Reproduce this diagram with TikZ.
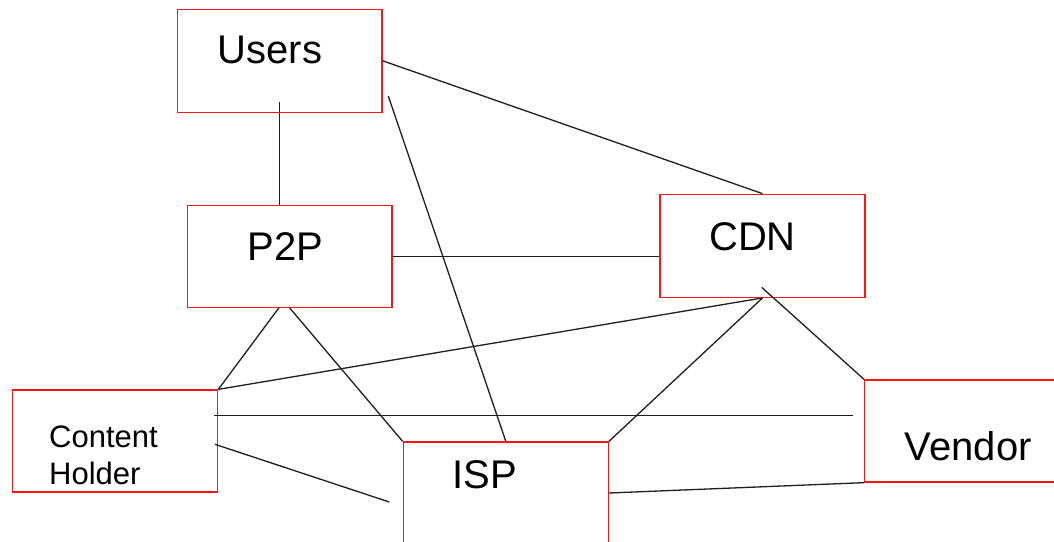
\documentclass[tikz,border=0pt]{standalone}
\usepackage{fontspec}
\setmainfont{Liberation Sans}
\usetikzlibrary{calc}
\definecolor{boxred}{RGB}{255,20,20}
\definecolor{linegray}{RGB}{30,30,30}
\tikzset{
  box/.style={draw=boxred, line width=1.3pt, rectangle, inner sep=0pt, fill=none},
  lbl/.style={anchor=base, inner sep=0pt, font=\fontsize{40}{48}\selectfont},
  small/.style={anchor=base west, inner sep=0pt, font=\fontsize{31}{37}\selectfont},
  conn/.style={draw=linegray, line width=1.3pt}
}
\begin{document}
\begin{tikzpicture}[x=1pt,y=-1pt]
\useasboundingbox (0,0) rectangle (1054,541);
\clip (0,0) rectangle (1054,541);
\fill[white] (0,0) rectangle (1054,541);
% boxes
\node[box, minimum width=204.7pt, minimum height=103pt] (users) at (279.7,60.8) {};
\node[box, minimum width=204.7pt, minimum height=101.6pt] (p2p) at (289.7,256.5) {};
\node[box, minimum width=205pt, minimum height=103pt] (cdn) at (762.5,245.8) {};
\node[box, minimum width=205pt, minimum height=102pt] (ch) at (115.2,441) {};
\node[box, minimum width=205pt, minimum height=102pt] (isp) at (505.8,493) {};
\node[box, minimum width=205pt, minimum height=102pt] (vendor) at (967.2,431) {};
% labels
\node[lbl] (usersT) at (270,63.3) {Users};
\node[lbl] (p2pT) at (285.5,260.7) {P2P};
\node[lbl] (cdnT) at (752.5,250) {CDN};
\node[lbl] (ispT) at (484.7,488.3) {ISP};
\node[lbl] (vendorT) at (968.3,460) {Vendor};
\node[small] (chT1) at (49,447.3) {Content};
\node[small] (chT2) at (49,484.3) {Holder};
% free ends
\coordinate (u1) at (279.3,102);
\coordinate (u1e) at (279.3,205.7);
\coordinate (u2) at (388.3,96);
\coordinate (p1) at (279.3,307.3);
\coordinate (c1) at (761.7,287.3);
\coordinate (h1) at (214,415.7);
\coordinate (v1) at (852.7,415.7);
\coordinate (h2) at (215,444.3);
\coordinate (i1) at (389.3,502);
% connectors
\draw[conn] (u1) -- (u1e);
\draw[conn] (users.east) -- (cdn.north);
\draw[conn] (u2) -- (isp.north);
\draw[conn] (p2p.east) -- (p2p.east -| cdn.west);
\draw[conn] (p1) -- (ch.north east);
\draw[conn] (p2p.south) -- (isp.north west);
\draw[conn] (cdn.south) -- (ch.north east);
\draw[conn] (cdn.south) -- (isp.north east);
\draw[conn] (c1) -- (vendor.north west);
\draw[conn] (h1) -- (v1);
\draw[conn] (h2) -- (i1);
\draw[conn] (isp.east) -- (vendor.south west);
\end{tikzpicture}
\end{document}
